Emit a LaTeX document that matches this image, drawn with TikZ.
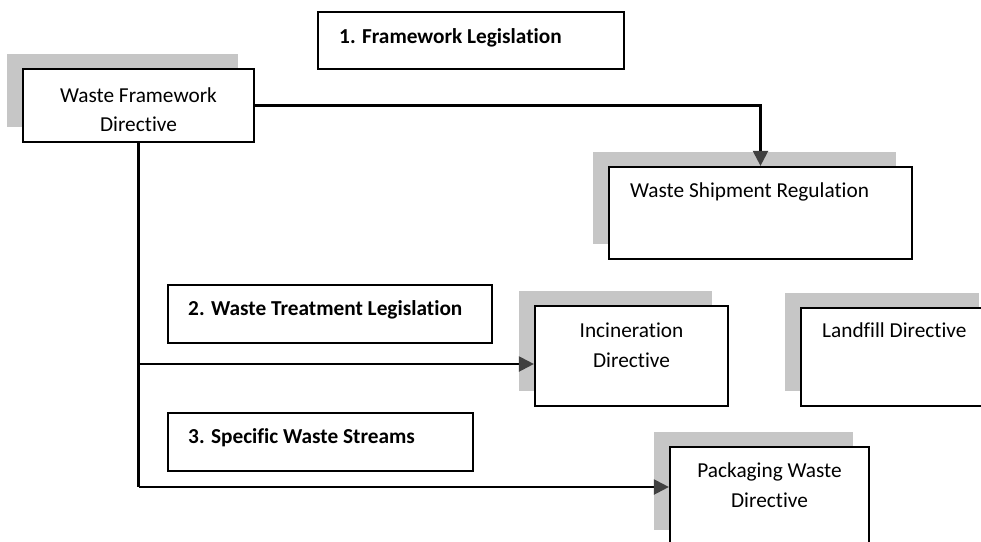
\documentclass[tikz,border=0pt]{standalone}
\usepackage{fontspec}
\setmainfont{Carlito}[Ligatures=NoCommon]
\usetikzlibrary{arrows.meta,shadows}

\definecolor{shadowgray}{RGB}{198,198,198}
\definecolor{tipgray}{RGB}{64,64,64}

\tikzset{
  % plain framed box, coordinates are in pixels with y pointing down
  framebox/.style={draw=black, line width=2.2pt, fill=white, inner sep=0pt},
  % framed box with a grey offset shadow up and to the left
  shadebox/.style={framebox,
    general shadow={shadow xshift=-16pt, shadow yshift=15.5pt, fill=shadowgray}},
  boxtext/.style={inner sep=0pt, font=\fontsize{21.3}{29}\selectfont},
  headtext/.style={boxtext, font=\fontsize{21.3}{29}\selectfont\bfseries},
  conn/.style={draw=black, line width=2.2pt},
  arrowconn/.style={conn, -{Triangle[length=15pt,width=15pt,color=tipgray]}},
}

\begin{document}
\begin{tikzpicture}[x=1pt,y=-1pt]
  \useasboundingbox (0,0) rectangle (981,541);

  % heading boxes
  \node[framebox, minimum width=306pt, minimum height=57pt] (flbox) at (471,40.5) {};
  \node[framebox, minimum width=324pt, minimum height=58pt] (wtlbox) at (330,314) {};
  \node[framebox, minimum width=305pt, minimum height=58pt] (swsbox) at (320.5,442) {};
  \node[headtext, anchor=base west] (fltext) at (339,43) {1. Framework Legislation};
  \node[headtext, anchor=base west] (wtltext) at (188,315) {2. Waste Treatment Legislation};
  \node[headtext, anchor=base west] (swstext) at (188,443) {3. Specific Waste Streams};

  % directive boxes
  \node[shadebox, minimum width=231pt, minimum height=73pt] (wfd) at (138.5,105.5) {};
  \node[shadebox, minimum width=303pt, minimum height=92pt] (wsr) at (760.5,213) {};
  \node[shadebox, minimum width=193pt, minimum height=100pt] (inc) at (631.5,356) {};
  \node[shadebox, minimum width=194pt, minimum height=98pt] (lfd) at (898,357) {};
  \node[shadebox, minimum width=199pt, minimum height=98pt] (pwd) at (769.5,496) {};

  \node[boxtext, anchor=base] (wfd1) at (138.5,102) {Waste Framework};
  \node[boxtext, anchor=base] (wfd2) at (138.5,131) {Directive};
  \node[boxtext, anchor=base west] (wsr1) at (630,197) {Waste Shipment Regulation};
  \node[boxtext, anchor=base] (inc1) at (631.5,337) {Incineration};
  \node[boxtext, anchor=base] (inc2) at (631.5,367) {Directive};
  \node[boxtext, anchor=base west] (lfd1) at (822,337) {Landfill Directive};
  \node[boxtext, anchor=base] (pwd1) at (769.5,477) {Packaging Waste};
  \node[boxtext, anchor=base] (pwd2) at (769.5,507) {Directive};

  % connectors
  \coordinate (tee) at (138.5,364);
  \coordinate (elbow) at (138.5,487);
  \draw[arrowconn] (wfd.east) -| (wsr.north);
  \draw[conn] (wfd.south) -- (elbow);
  \draw[arrowconn] (tee) -- (tee -| inc.west);
  \draw[arrowconn] (elbow) -- (elbow -| pwd.west);
\end{tikzpicture}
\end{document}
